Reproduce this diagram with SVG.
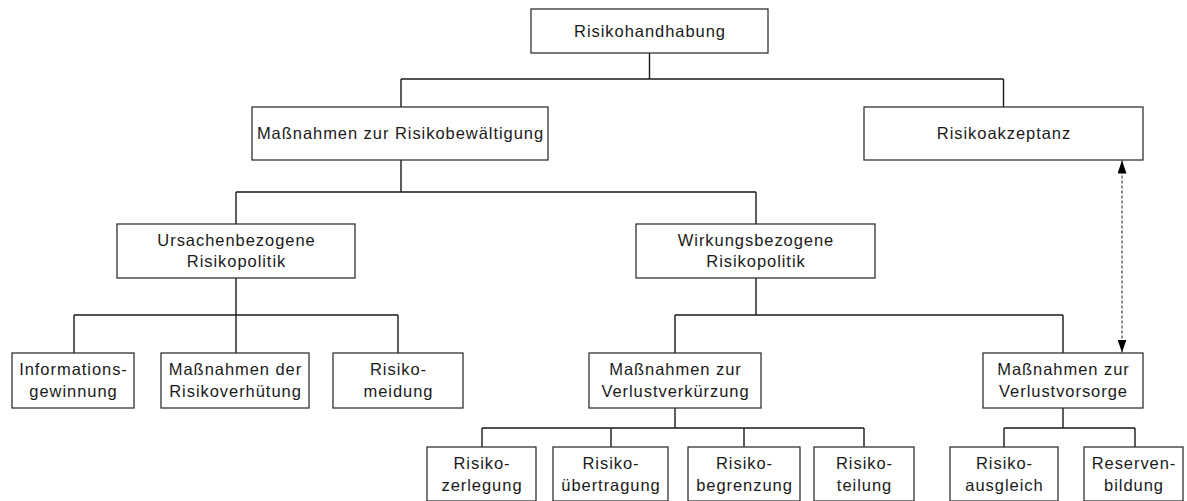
<svg xmlns="http://www.w3.org/2000/svg" width="1187" height="501" viewBox="0 0 1187 501">
  <style>
    .box { fill: #ffffff; stroke: #333333; stroke-width: 1.3; }
    .lbl { font-family: "Liberation Sans", Arial, sans-serif; font-size: 16.5px; letter-spacing: 0.95px; fill: #1a1a1a; text-anchor: middle; }
    .wire { fill: none; stroke: #1a1a1a; stroke-width: 1.4; }
    .dash { fill: none; stroke: #1a1a1a; stroke-width: 1; stroke-dasharray: 3 2; }
  </style>
  <defs>
    <marker id="tip" viewBox="0 0 13 9" refX="13" refY="4.5" markerWidth="13" markerHeight="9" markerUnits="userSpaceOnUse" orient="auto-start-reverse">
      <path d="M0,0 L13,4.5 L0,9 Z" fill="#000000"/>
    </marker>
  </defs>

  <rect width="1187" height="501" fill="#ffffff"/>

  <g id="connectors">
    <!-- root to level 1 -->
    <path class="wire" d="M649.5,53 V79 M401,79 H1003.5 M401,79 V107 M1003.5,79 V107"/>
    <!-- Risikobewältigung to level 2 -->
    <path class="wire" d="M401,160 V192 M236,192 H756 M236,192 V224 M756,192 V224"/>
    <!-- Ursachenbezogene to level 3 -->
    <path class="wire" d="M236,278 V315 M74,315 H398 M74,315 V353 M236,315 V353 M398,315 V353"/>
    <!-- Wirkungsbezogene to level 3 -->
    <path class="wire" d="M756,278 V315 M675,315 H1063 M675,315 V353 M1063,315 V353"/>
    <!-- Verlustverkürzung to level 4 -->
    <path class="wire" d="M675,408 V428 M482,428 H864 M482,428 V447 M611,428 V447 M744,428 V447 M864,428 V447"/>
    <!-- Verlustvorsorge to level 4 -->
    <path class="wire" d="M1063,408 V428 M1004,428 H1135 M1004,428 V447 M1135,428 V447"/>
    <!-- link between Risikoakzeptanz and Verlustvorsorge -->
    <line class="dash" x1="1122" y1="160.5" x2="1122" y2="352.5" marker-start="url(#tip)" marker-end="url(#tip)"/>
  </g>

  <g id="risikohandhabung">
    <rect class="box" x="531" y="9" width="237" height="44"/>
    <text class="lbl" x="650" y="37">Risikohandhabung</text>
  </g>

  <g id="risikobewaeltigung">
    <rect class="box" x="252" y="107" width="296" height="53"/>
    <text class="lbl" x="400.5" y="139">Maßnahmen zur Risikobewältigung</text>
  </g>

  <g id="risikoakzeptanz">
    <rect class="box" x="864" y="107" width="279" height="53"/>
    <text class="lbl" x="1004" y="139">Risikoakzeptanz</text>
  </g>

  <g id="ursachenbezogen">
    <rect class="box" x="117" y="224" width="238" height="54"/>
    <text class="lbl" x="236.5" y="246">Ursachenbezogene</text>
    <text class="lbl" x="236.5" y="267">Risikopolitik</text>
  </g>

  <g id="wirkungsbezogen">
    <rect class="box" x="636" y="224" width="239" height="54"/>
    <text class="lbl" x="756" y="246">Wirkungsbezogene</text>
    <text class="lbl" x="756" y="267">Risikopolitik</text>
  </g>

  <g id="informationsgewinnung">
    <rect class="box" x="12" y="353" width="122" height="55"/>
    <text class="lbl" x="73.5" y="375">Informations-</text>
    <text class="lbl" x="73.5" y="397">gewinnung</text>
  </g>

  <g id="risikoverhuetung">
    <rect class="box" x="161" y="353" width="148" height="55"/>
    <text class="lbl" x="235.5" y="375">Maßnahmen der</text>
    <text class="lbl" x="235.5" y="397">Risikoverhütung</text>
  </g>

  <g id="risikomeidung">
    <rect class="box" x="333" y="353" width="130" height="55"/>
    <text class="lbl" x="398.5" y="375">Risiko-</text>
    <text class="lbl" x="398.5" y="397">meidung</text>
  </g>

  <g id="verlustverkuerzung">
    <rect class="box" x="589" y="353" width="172" height="55"/>
    <text class="lbl" x="675.5" y="375">Maßnahmen zur</text>
    <text class="lbl" x="675.5" y="397">Verlustverkürzung</text>
  </g>

  <g id="verlustvorsorge">
    <rect class="box" x="983" y="353" width="160" height="55"/>
    <text class="lbl" x="1063.5" y="375">Maßnahmen zur</text>
    <text class="lbl" x="1063.5" y="397">Verlustvorsorge</text>
  </g>

  <g id="risikozerlegung">
    <rect class="box" x="427" y="447" width="109" height="54"/>
    <text class="lbl" x="482" y="469">Risiko-</text>
    <text class="lbl" x="482" y="491">zerlegung</text>
  </g>

  <g id="risikouebertragung">
    <rect class="box" x="553" y="447" width="115" height="54"/>
    <text class="lbl" x="611" y="469">Risiko-</text>
    <text class="lbl" x="611" y="491">übertragung</text>
  </g>

  <g id="risikobegrenzung">
    <rect class="box" x="688" y="447" width="112" height="54"/>
    <text class="lbl" x="744.5" y="469">Risiko-</text>
    <text class="lbl" x="744.5" y="491">begrenzung</text>
  </g>

  <g id="risikoteilung">
    <rect class="box" x="814" y="447" width="100" height="54"/>
    <text class="lbl" x="864.5" y="469">Risiko-</text>
    <text class="lbl" x="864.5" y="491">teilung</text>
  </g>

  <g id="risikoausgleich">
    <rect class="box" x="950" y="447" width="108" height="54"/>
    <text class="lbl" x="1004.5" y="469">Risiko-</text>
    <text class="lbl" x="1004.5" y="491">ausgleich</text>
  </g>

  <g id="reservenbildung">
    <rect class="box" x="1084" y="447" width="99" height="54"/>
    <text class="lbl" x="1134" y="469">Reserven-</text>
    <text class="lbl" x="1134" y="491">bildung</text>
  </g>
</svg>
